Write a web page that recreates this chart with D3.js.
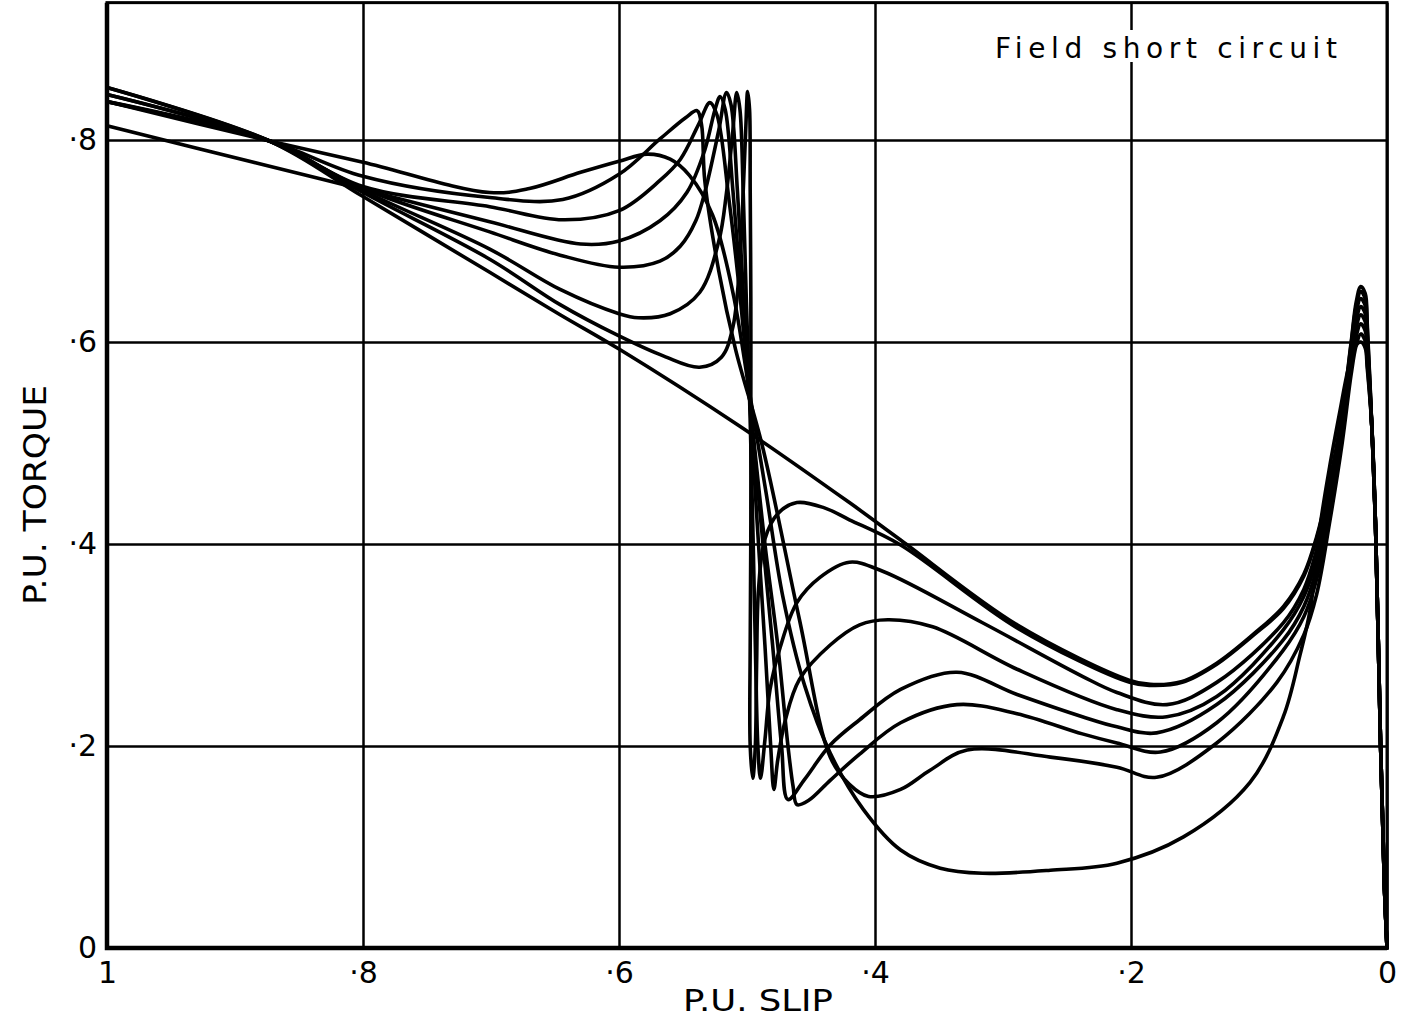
<!DOCTYPE html>
<html>
<head>
<meta charset="utf-8">
<script src="https://cdn.jsdelivr.net/npm/d3@7"></script>
<style>
  body { margin: 0; background: #fff; }
  text { font-family: "DejaVu Sans", sans-serif; fill: #000; }
</style>
</head>
<body>
<svg id="chart" width="1407" height="1017"></svg>
<script>
// axis ticks
const slipTicks = [1, 0.8, 0.6, 0.4, 0.2, 0];
const torqueTicks = [0, 0.2, 0.4, 0.6, 0.8];

// curves, [slip, torque]
// straight line (no dip at half speed)
const curveL = [[1,0.852],[0.873,0.799],[0.80,0.744],[0.701,0.669],[0.646,0.627],[0.60,0.593],[0.505,0.516],
  [0.42,0.441],[0.38,0.404],[0.289,0.32],[0.201,0.265],[0.185,0.261],[0.16,0.264],[0.133,0.282],[0.105,0.31],
  [0.081,0.338],[0.065,0.37],[0.055,0.407],[0.045,0.46],[0.035,0.53],[0.028,0.60],[0.024,0.64],[0.0205,0.655],
  [0.017,0.648],[0.0155,0.62],[0.012,0.52],[0.009,0.42],[0.005,0.2],[0.002,0.06],[0,0]];

// sharpest dip
const curve7 = [[1,0.852],[0.873,0.799],[0.80,0.748],[0.701,0.682],[0.646,0.637],[0.60,0.606],[0.565,0.586],
  [0.537,0.575],[0.52,0.585],[0.511,0.615],[0.505,0.692],[0.503,0.748],[0.501,0.81],[0.4995,0.848],[0.498,0.83],
  [0.4975,0.75],[0.497,0.64],[0.497,0.545],[0.497,0.42],[0.4975,0.3],[0.4975,0.2],[0.4955,0.168],[0.4935,0.2],
  [0.4925,0.28],[0.491,0.355],[0.486,0.405],[0.476,0.43],[0.461,0.441],[0.44,0.436],[0.42,0.424],[0.38,0.399],
  [0.289,0.317],[0.201,0.263],[0.185,0.26],[0.16,0.263],[0.133,0.281],[0.105,0.309],[0.081,0.336],[0.065,0.368],
  [0.055,0.405],[0.045,0.458],[0.035,0.528],[0.028,0.598],[0.024,0.636],[0.0205,0.65],[0.017,0.643],[0.0155,0.615],
  [0.012,0.52],[0.009,0.42],[0.005,0.2],[0.002,0.06],[0,0]];

const curve6 = [[1,0.845],[0.873,0.799],[0.80,0.750],[0.701,0.692],[0.646,0.652],[0.60,0.628],[0.585,0.624],
  [0.56,0.628],[0.537,0.649],[0.522,0.70],[0.516,0.748],[0.511,0.81],[0.508,0.847],[0.5055,0.83],[0.503,0.75],
  [0.5005,0.64],[0.498,0.545],[0.4955,0.42],[0.4935,0.3],[0.4915,0.2],[0.4895,0.168],[0.486,0.206],[0.482,0.256],
  [0.474,0.298],[0.461,0.342],[0.443,0.367],[0.42,0.382],[0.394,0.373],[0.316,0.322],[0.238,0.269],[0.211,0.253],
  [0.172,0.241],[0.133,0.263],[0.081,0.322],[0.065,0.355],[0.055,0.394],[0.045,0.45],[0.035,0.524],[0.028,0.593],
  [0.024,0.63],[0.0205,0.643],[0.017,0.636],[0.0155,0.608],[0.012,0.52],[0.009,0.42],[0.005,0.2],[0.002,0.06],[0,0]];

const curve5 = [[1,0.845],[0.873,0.799],[0.80,0.752],[0.701,0.709],[0.646,0.686],[0.60,0.674],[0.568,0.68],
  [0.552,0.695],[0.54,0.72],[0.533,0.748],[0.522,0.81],[0.516,0.847],[0.5125,0.835],[0.5075,0.75],[0.5025,0.64],
  [0.498,0.545],[0.492,0.42],[0.486,0.3],[0.4815,0.2],[0.479,0.157],[0.476,0.186],[0.47,0.226],[0.459,0.266],
  [0.435,0.30],[0.412,0.32],[0.39,0.325],[0.355,0.318],[0.289,0.276],[0.211,0.236],[0.172,0.229],[0.133,0.249],
  [0.081,0.315],[0.065,0.348],[0.055,0.385],[0.045,0.445],[0.035,0.52],[0.028,0.588],[0.024,0.622],[0.0205,0.635],
  [0.017,0.628],[0.0155,0.60],[0.012,0.52],[0.009,0.42],[0.005,0.2],[0.002,0.06],[0,0]];

const curve4 = [[1,0.814],[0.873,0.774],[0.80,0.751],[0.701,0.719],[0.63,0.697],[0.60,0.70],[0.568,0.72],
  [0.547,0.748],[0.533,0.79],[0.525,0.83],[0.521,0.843],[0.517,0.83],[0.511,0.75],[0.504,0.64],[0.498,0.545],
  [0.489,0.42],[0.48,0.3],[0.473,0.2],[0.468,0.147],[0.455,0.167],[0.435,0.201],[0.412,0.226],[0.38,0.256],
  [0.336,0.273],[0.289,0.251],[0.238,0.229],[0.211,0.219],[0.18,0.213],[0.133,0.241],[0.081,0.305],[0.065,0.338],
  [0.055,0.375],[0.045,0.44],[0.035,0.515],[0.028,0.582],[0.024,0.615],[0.0205,0.627],[0.017,0.62],[0.0155,0.594],
  [0.012,0.52],[0.009,0.42],[0.005,0.2],[0.002,0.06],[0,0]];

const curve3 = [[1,0.838],[0.873,0.799],[0.80,0.754],[0.701,0.734],[0.644,0.721],[0.60,0.73],[0.568,0.76],
  [0.552,0.781],[0.538,0.815],[0.529,0.837],[0.5235,0.825],[0.514,0.74],[0.505,0.64],[0.498,0.545],[0.486,0.40],
  [0.476,0.30],[0.468,0.2],[0.464,0.16],[0.461,0.142],[0.452,0.146],[0.435,0.166],[0.412,0.192],[0.38,0.223],
  [0.336,0.241],[0.289,0.232],[0.238,0.212],[0.211,0.203],[0.177,0.194],[0.133,0.223],[0.081,0.295],[0.065,0.328],
  [0.055,0.365],[0.045,0.432],[0.035,0.51],[0.028,0.575],[0.024,0.606],[0.0205,0.618],[0.017,0.611],[0.0155,0.588],
  [0.012,0.52],[0.009,0.42],[0.005,0.2],[0.002,0.06],[0,0]];

const curve2 = [[1,0.838],[0.873,0.799],[0.80,0.764],[0.701,0.743],[0.644,0.741],[0.60,0.766],[0.568,0.801],
  [0.548,0.822],[0.539,0.829],[0.5355,0.815],[0.533,0.76],[0.522,0.67],[0.509,0.593],[0.488,0.497],[0.459,0.325],
  [0.435,0.189],[0.42,0.162],[0.405,0.15],[0.38,0.157],[0.357,0.176],[0.328,0.196],[0.263,0.189],[0.211,0.179],
  [0.18,0.169],[0.133,0.203],[0.086,0.263],[0.065,0.31],[0.055,0.35],[0.045,0.42],[0.035,0.50],[0.028,0.568],
  [0.024,0.597],[0.0205,0.608],[0.017,0.601],[0.0155,0.58],[0.012,0.52],[0.009,0.42],[0.005,0.2],[0.002,0.06],[0,0]];

// broadest hump, lowest trough
const curve1 = [[1,0.838],[0.873,0.799],[0.80,0.778],[0.701,0.748],[0.67,0.752],[0.63,0.768],[0.60,0.779],
  [0.578,0.786],[0.56,0.781],[0.545,0.765],[0.527,0.726],[0.511,0.649],[0.498,0.55],[0.485,0.45],[0.472,0.348],
  [0.455,0.26],[0.435,0.193],[0.409,0.137],[0.38,0.097],[0.349,0.079],[0.316,0.074],[0.263,0.077],[0.211,0.084],
  [0.159,0.11],[0.107,0.164],[0.081,0.229],[0.068,0.29],[0.06,0.335],[0.052,0.42],[0.045,0.475],[0.037,0.53],
  [0.03,0.575],[0.025,0.595],[0.0205,0.60],[0.017,0.594],[0.0155,0.575],[0.012,0.52],[0.009,0.42],[0.005,0.2],
  [0.002,0.06],[0,0]];

const curves = [curveL, curve7, curve6, curve5, curve4, curve3, curve2, curve1];

const svg = d3.select("#chart");
const plotLeft = 107, plotRight = 1387, plotBottom = 948;

const x = d3.scaleLinear().domain([1, 0]).range([plotLeft, plotRight]);
const y = d3.scaleLinear().domain([0, 0.8]).range([plotBottom, 140]);
const plotTop = y(0.936);

const fmt = v => v === 0 ? "0" : v === 1 ? "1" : "\u00b7" + Math.round(v * 10);

// grid + tick labels
const gx = svg.append("g")
  .attr("transform", `translate(0,${plotBottom})`)
  .call(d3.axisBottom(x).tickValues(slipTicks).tickFormat(fmt)
    .tickSize(-(plotBottom - plotTop)).tickPadding(14));
gx.select(".domain").remove();
gx.selectAll(".tick line").attr("stroke", "#000").attr("stroke-width", 2.5);
gx.selectAll(".tick text").attr("font-size", 30).attr("fill", "#000")
  .attr("font-family", "DejaVu Sans");

const gy = svg.append("g")
  .attr("transform", `translate(${plotLeft},0)`)
  .call(d3.axisLeft(y).tickValues(torqueTicks).tickFormat(fmt)
    .tickSize(-(plotRight - plotLeft)).tickPadding(10));
gy.select(".domain").remove();
gy.selectAll(".tick line").attr("stroke", "#000").attr("stroke-width", 2.5);
gy.selectAll(".tick text").attr("font-size", 30).attr("fill", "#000")
  .attr("font-family", "DejaVu Sans");

// frame
svg.append("rect")
  .attr("x", plotLeft).attr("y", plotTop)
  .attr("width", plotRight - plotLeft).attr("height", plotBottom - plotTop)
  .attr("fill", "none").attr("stroke", "#000").attr("stroke-width", 3);
svg.append("path")
  .attr("d", `M${plotLeft},${plotTop}V${plotBottom}H${plotRight}`)
  .attr("fill", "none").attr("stroke", "#000").attr("stroke-width", 4.5);

// curves
const line = d3.line()
  .x(d => x(d[0]))
  .y(d => y(d[1]))
  .curve(d3.curveCatmullRom.alpha(0.5));

svg.append("g")
  .selectAll("path")
  .data(curves)
  .join("path")
    .attr("d", line)
    .attr("fill", "none")
    .attr("stroke", "#000")
    .attr("stroke-width", 3.6)
    .attr("stroke-linejoin", "round")
    .attr("stroke-linecap", "round");

// title in the corner, knocked out of the grid
svg.append("rect")
  .attr("x", 988).attr("y", 30).attr("width", 355).attr("height", 32)
  .attr("fill", "#fff");
svg.append("text")
  .attr("x", 995).attr("y", 58)
  .attr("font-size", 28)
  .attr("textLength", 342).attr("lengthAdjust", "spacing")
  .text("Field short circuit");

// axis titles
svg.append("text")
  .attr("x", 683).attr("y", 1011)
  .attr("font-size", 30)
  .attr("textLength", 150).attr("lengthAdjust", "spacingAndGlyphs")
  .text("P.U. SLIP");

svg.append("text")
  .attr("transform", "translate(46,605) rotate(-90)")
  .attr("font-size", 32)
  .attr("textLength", 220).attr("lengthAdjust", "spacingAndGlyphs")
  .text("P.U. TORQUE");
</script>
</body>
</html>
